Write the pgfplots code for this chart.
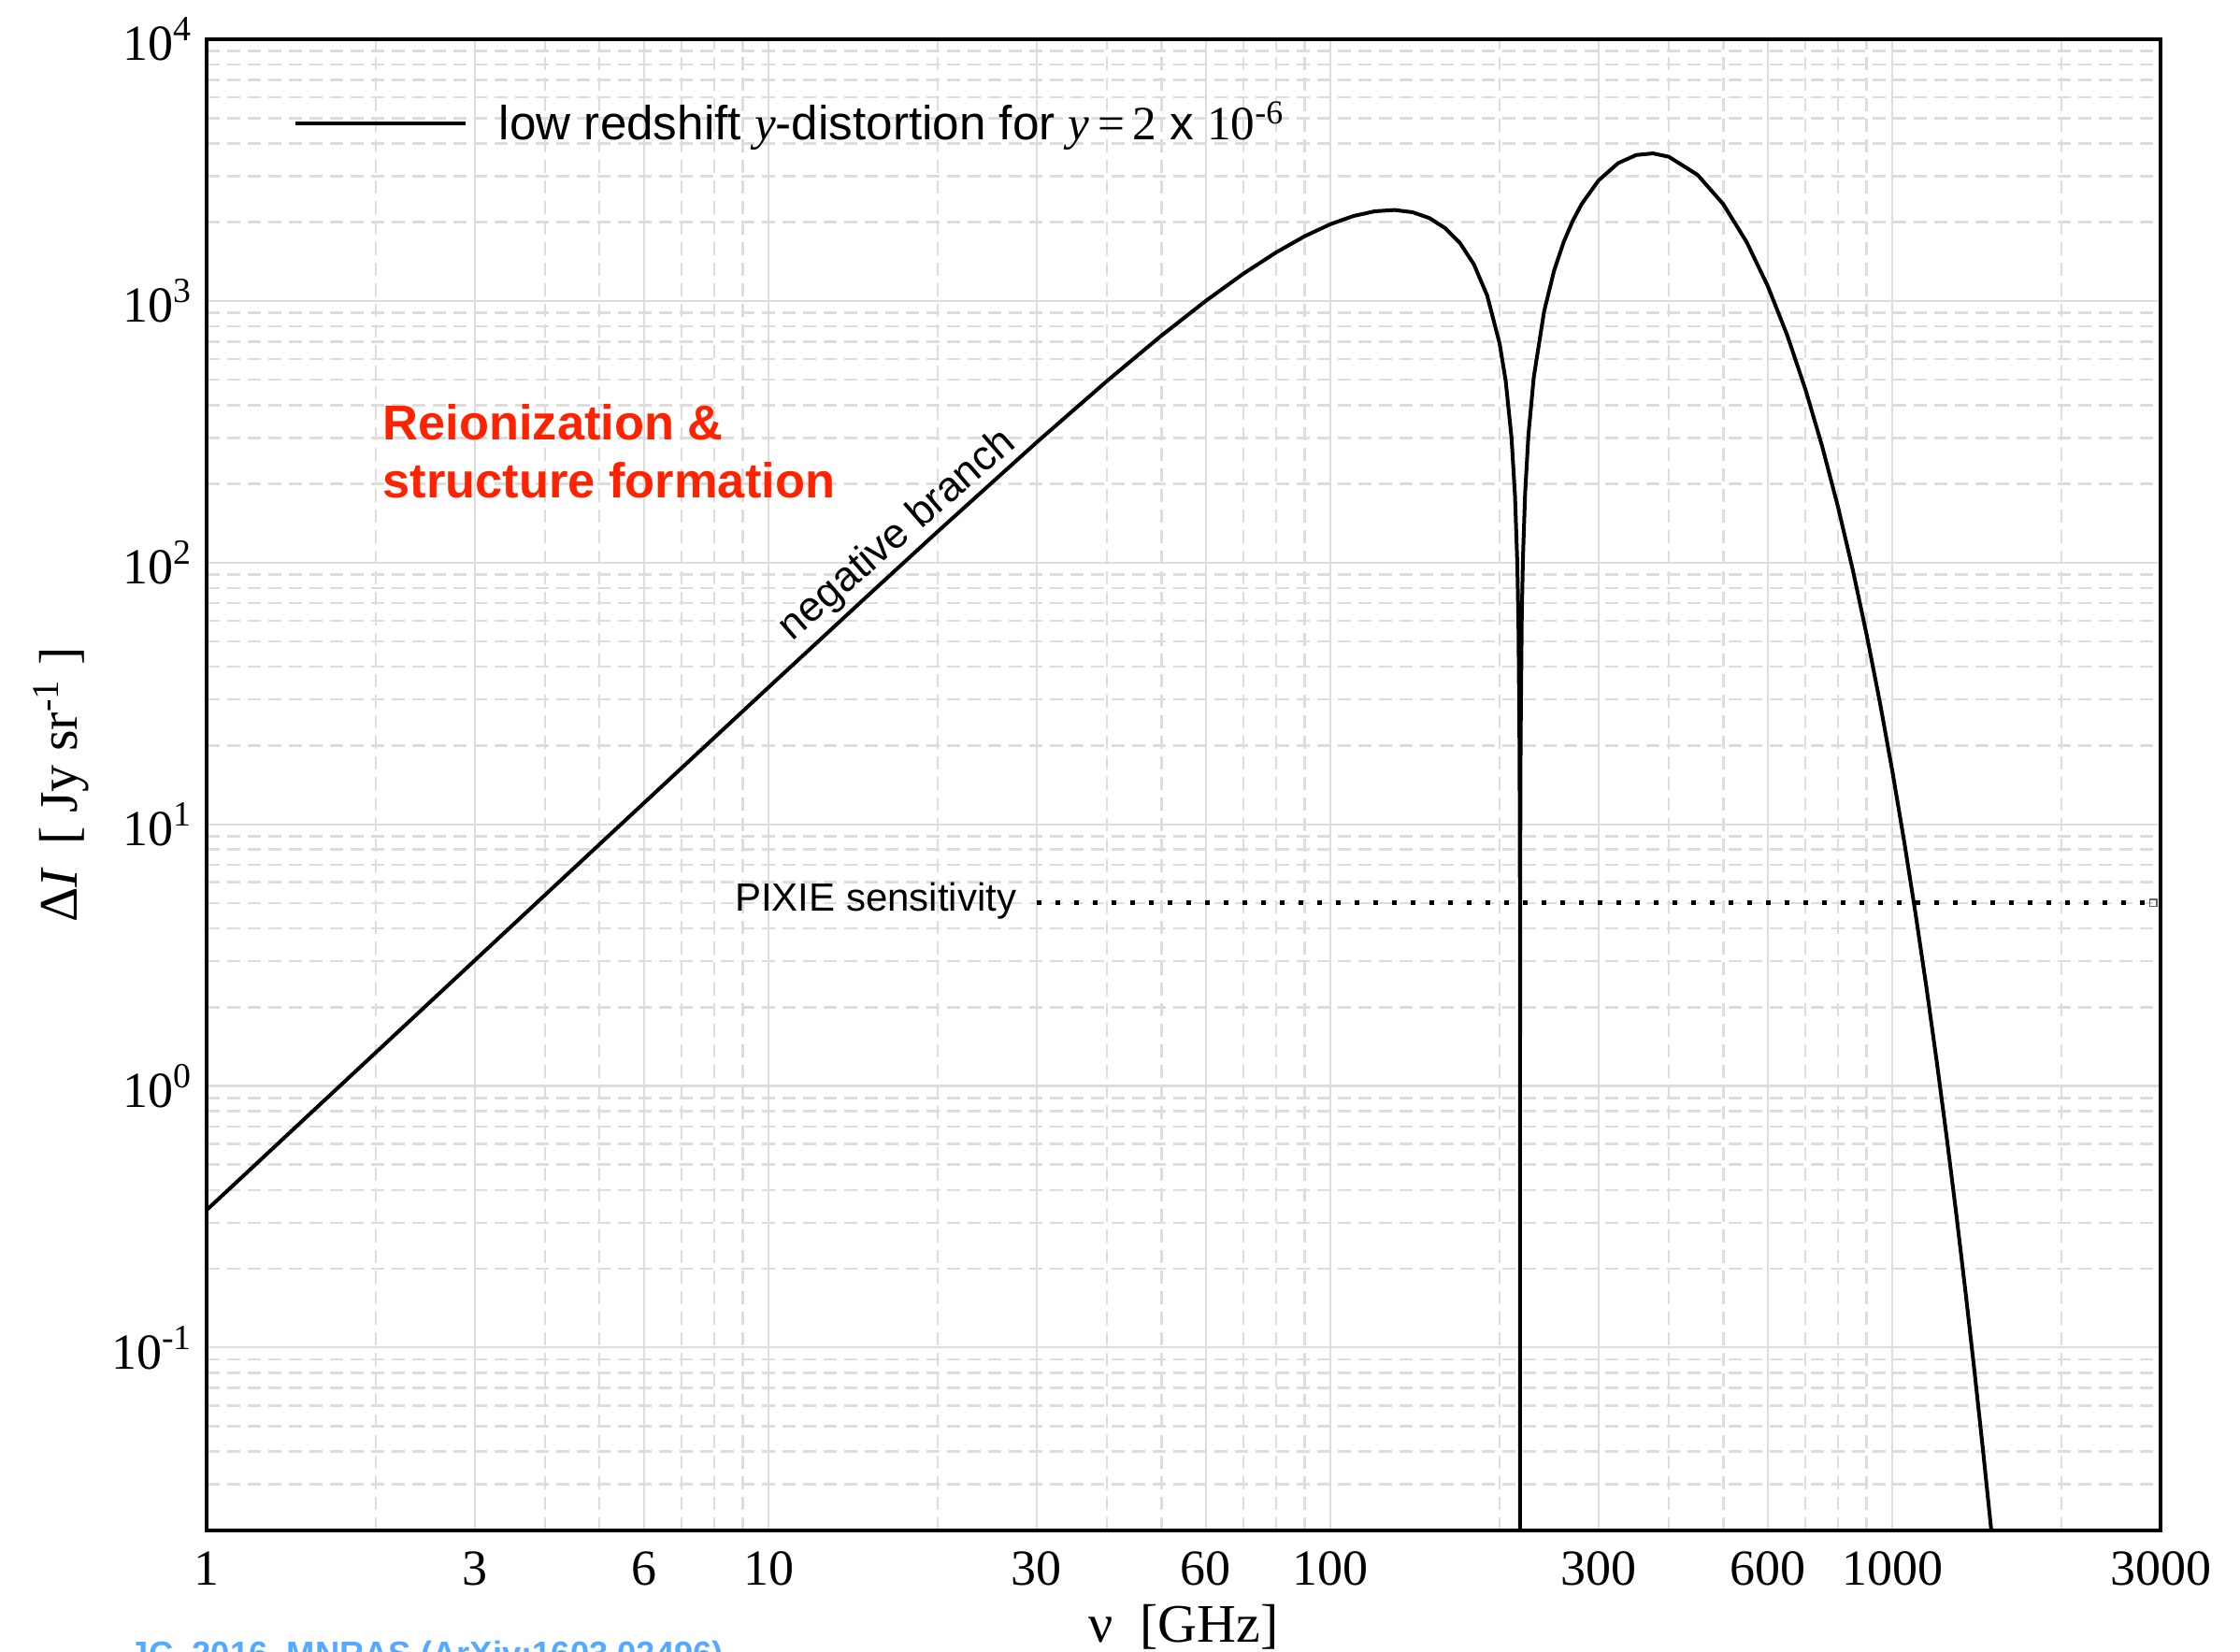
\documentclass[border=0pt]{standalone}
\usepackage{fontspec}
\setmainfont{Liberation Serif}
\setsansfont{Liberation Sans}
\usepackage{pgfplots}
\pgfplotsset{compat=1.18}
\definecolor{gridc}{HTML}{DDDDDD}
\definecolor{redc}{HTML}{FF2200}
\definecolor{bluec}{HTML}{55AAFF}
\begin{document}
\begin{tikzpicture}
\begin{axis}[
  name=ax,
  xmode=log, ymode=log,
  scale only axis,
  width=522.5pt, height=398.75pt,
  xmin=1, xmax=3000, ymin=0.02, ymax=10000,
  xtick={1,3,6,10,30,60,100,300,600,1000,3000},
  xticklabels={1,3,6,10,30,60,100,300,600,1000,3000},
  minor xtick={2,4,5,7,8,9,20,40,50,70,80,90,200,400,500,700,800,900,2000},
  ytick={0.1,1,10,100,1000,10000},
  yticklabels={10\textsuperscript{-1},10\textsuperscript{0},10\textsuperscript{1},10\textsuperscript{2},10\textsuperscript{3},10\textsuperscript{4}},
  minor ytick={0.03,0.04,0.05,0.06,0.07,0.08,0.09,0.2,0.3,0.4,0.5,0.6,0.7,0.8,0.9,2,3,4,5,6,7,8,9,20,30,40,50,60,70,80,90,200,300,400,500,600,700,800,900,2000,3000,4000,5000,6000,7000,8000,9000},
  grid=both,
  major grid style={draw=gridc, line width=0.55pt},
  minor grid style={draw=gridc, line width=0.65pt, dash pattern=on 3.6pt off 1.9pt},
  major tick length=0pt, minor tick length=0pt,
  axis line style={black, line width=0.9pt},
  tick label style={font=\fontsize{13.5}{16}\selectfont},
  x tick label style={anchor=base, yshift=-14.5pt},
  every axis x label/.style={at={(axis description cs:0.5,0)}, anchor=base, yshift=-29.75pt, font=\fontsize{14.5}{17}\selectfont},
  every axis y label/.style={at={([xshift=-34.5pt]axis description cs:0,0.5)}, rotate=90, anchor=base, font=\fontsize{14.5}{17}\selectfont},
  xlabel={ν\enspace[GHz]},
  ylabel={Δ\textit{I}\, [ Jy sr\textsuperscript{-1} ]},
  legend style={draw=none, fill=none, inner sep=0pt, outer sep=0pt, at={(rel axis cs:0.0445,0.9435)}, anchor=west, font=\sffamily\fontsize{12.8}{15}\selectfont},
  legend cell align=left,
  legend image code/.code={\draw[#1] (0pt,0pt) -- (45.5pt,0pt); \path (52pt,0pt);},
]
\addplot[black, line width=1pt] table {
nu dI
1 0.3354
1.5 0.7545
2 1.341
3 3.017
4 5.362
5 8.374
7 16.39
10 33.37
15 74.59
20 131.4
30 288.1
40 493.9
50 736.2
60 1000.5
70 1271.0
80 1531.9
90 1767.9
100 1965.3
110 2112.7
120 2201.5
130 2225.6
140 2182.5
150 2072.4
160 1898.0
170 1664.6
180 1379.1
190 1050.2
200 687.0
205 495.7
210 299.5
213 179.9
215 99.6
216 59.5
217 19.0
217.3 6.9
217.4 2.8
217.45 0.81
217.47 0.001
217.5 1.2
217.6 5.3
217.8 13.3
218 21.4
219 61.9
220 102.6
222 183.5
225 306.2
230 509.9
240 913.5
250 1305.5
260 1678.9
270 2028.0
280 2348.1
300 2888.7
325 3361.5
350 3611.2
375 3663.3
400 3555.9
450 3033.0
500 2343.2
550 1681.9
600 1140.1
650 738.2
700 460.2
750 278.0
800 163.5
850 93.89
900 52.85
950 29.22
1000 15.90
1050 8.529
1100 4.517
1150 2.365
1200 1.225
1250 0.6288
1300 0.3199
1350 0.1614
1400 0.0808
1450 0.0402
1500 0.01986
1600 0.0048
};
\addlegendentry{low redshift {\rmfamily\itshape y}-distortion for {\rmfamily\itshape y}\,{\rmfamily =\,2} x {\rmfamily 10\textsuperscript{-6}}}
\addplot[forget plot, black, line width=1.25pt, dash pattern=on 1.25pt off 3.75pt] coordinates {(30,5) (2880,5)};
\addplot[forget plot, black!60, line width=0.4pt, only marks, mark=square, mark size=0.9pt] coordinates {(2912,5)};
\node[anchor=base west, text=redc, font=\sffamily\bfseries\fontsize{13.1}{15}\selectfont, inner sep=0pt] at (axis cs:2.055,295) {Reionization \&};
\node[anchor=base west, text=redc, font=\sffamily\bfseries\fontsize{13.1}{15}\selectfont, inner sep=0pt] at (axis cs:2.055,177.4) {structure formation};
\node[rotate=41, font=\sffamily\fontsize{11.2}{13}\selectfont, inner sep=0pt] at (axis cs:17,127) {negative branch};
\node[anchor=base east, font=\sffamily\fontsize{10.5}{12}\selectfont, inner sep=0pt] at (axis cs:27.7,4.64) {PIXIE sensitivity};
\end{axis}
\node[anchor=base west, text=bluec, font=\sffamily\bfseries\fontsize{9.1}{11}\selectfont, inner sep=0pt] at ([shift={(-20.75pt,-36pt)}]ax.south west) {JC, 2016, MNRAS (ArXiv:1603.02496)};
\pgfresetboundingbox
\path[use as bounding box] ([shift={(-55.25pt,-32.25pt)}]ax.south west) rectangle ([shift={(21.25pt,10.5pt)}]ax.north east);
\end{tikzpicture}
\end{document}
